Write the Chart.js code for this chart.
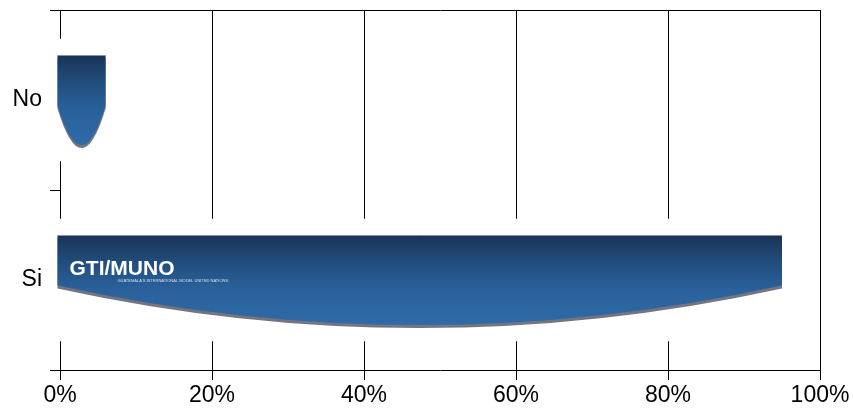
<!DOCTYPE html>
<html>
<head>
<meta charset="utf-8">
<script src="https://cdn.jsdelivr.net/npm/chart.js@4/dist/chart.umd.min.js"></script>
<style>
html,body{margin:0;padding:0;background:#fff;}
#wrap{width:853px;height:417px;}
</style>
</head>
<body>
<div id="wrap"><canvas id="c" width="853" height="417"></canvas></div>
<script>
const categories = ['No', 'Si'];
const values = [6, 95];
const tickValues = [0, 20, 40, 60, 80, 100];
const logoText = 'GTI/MUNO';
const logoSub = "GUATEMALA'S INTERNATIONAL MODEL UNITED NATIONS";

const FONT = '"Liberation Sans", Arial, sans-serif';

const shieldPlugin = {
  id: 'shield',
  beforeDatasetsDraw(chart) {
    const ctx = chart.ctx;
    const meta = chart.getDatasetMeta(0);
    const yScale = chart.scales.y;
    const cat = (yScale.bottom - yScale.top) / categories.length;
    ctx.save();
    ctx.fillStyle = '#ffffff';
    meta.data.forEach(bar => {
      const p = bar.getProps(['x', 'y', 'base'], true);
      const top = p.y - cat * 0.34;
      const h = cat * 0.68;
      ctx.fillRect(p.base - 5, top, (p.x - p.base) + 15, h);
    });
    ctx.restore();
  },
  afterDatasetsDraw(chart) {
    const ctx = chart.ctx;
    const meta = chart.getDatasetMeta(0);
    meta.data.forEach((bar, i) => {
      const p = bar.getProps(['x', 'y', 'base', 'height'], true);
      const left = p.base - 3;
      const right = p.x;
      const top = p.y - p.height / 2;
      const bottom = p.y + p.height / 2;
      const side = p.y + p.height * 0.06;
      const ctrl = 2 * bottom - side;
      const mid = (left + right) / 2;
      const path = (dy) => {
        ctx.beginPath();
        ctx.moveTo(left, top + dy);
        ctx.lineTo(right, top + dy);
        ctx.lineTo(right, side + dy);
        ctx.quadraticCurveTo(mid, ctrl + dy, left, side + dy);
        ctx.closePath();
      };
      ctx.save();
      path(3);
      ctx.fillStyle = '#75757f';
      ctx.fill();
      const g = ctx.createLinearGradient(0, top, 0, bottom);
      g.addColorStop(0, '#1a3354');
      g.addColorStop(0.3, '#214d7d');
      g.addColorStop(0.6, '#2a619a');
      g.addColorStop(1, '#2e6ba8');
      path(0);
      ctx.fillStyle = g;
      ctx.fill();
      ctx.strokeStyle = 'rgba(200,210,225,0.6)';
      ctx.lineWidth = 1;
      ctx.beginPath();
      ctx.moveTo(left, top + 0.5);
      ctx.lineTo(right, top + 0.5);
      ctx.stroke();
      if (right - left > 200) {
        ctx.fillStyle = '#ffffff';
        ctx.font = 'bold 21px ' + FONT;
        ctx.textBaseline = 'alphabetic';
        ctx.fillText(logoText, left + 12, top + 40);
        ctx.font = '4px ' + FONT;
        ctx.fillStyle = 'rgba(255,255,255,0.8)';
        ctx.fillText(logoSub, left + 60, top + 47);
      }
      ctx.restore();
    });
  }
};

new Chart(document.getElementById('c'), {
  type: 'bar',
  data: {
    labels: categories,
    datasets: [{
      data: values,
      backgroundColor: 'rgba(0,0,0,0)',
      borderWidth: 0,
      barPercentage: 0.5,
      categoryPercentage: 1.0
    }]
  },
  options: {
    indexAxis: 'y',
    responsive: false,
    animation: false,
    events: [],
    layout: { padding: { top: 10, right: 33, left: 0, bottom: 0 } },
    plugins: { legend: { display: false }, tooltip: { enabled: false } },
    scales: {
      x: {
        type: 'linear',
        min: 0,
        max: 100,
        afterBuildTicks(scale) { scale.ticks = tickValues.map(v => ({ value: v })); },
        ticks: {
          color: '#000',
          font: { family: FONT, size: 23 },
          padding: 2,
          maxRotation: 0,
          callback: v => v + '%'
        },
        grid: { color: '#000', lineWidth: 1, tickLength: 10, drawOnChartArea: true },
        border: { color: '#000', width: 1 },
        afterFit(s) { s.height = 47; }
      },
      x2: {
        type: 'linear',
        position: 'top',
        min: 0,
        max: 100,
        ticks: { display: false },
        grid: { display: false, drawTicks: false },
        border: { display: true, color: '#000', width: 1 },
        afterFit(s) { s.height = 0; s.paddingTop = 0; s.paddingBottom = 0; }
      },
      y: {
        type: 'category',
        offset: true,
        ticks: {
          color: '#000',
          font: { family: FONT, size: 23 },
          padding: 8
        },
        grid: { color: '#000', lineWidth: 1, offset: true, tickLength: 10, drawOnChartArea: false },
        border: { color: '#000', width: 1 },
        afterFit(s) { s.width = 60; s.paddingTop = 0; s.paddingBottom = 0; }
      }
    }
  },
  plugins: [shieldPlugin]
});
</script>
</body>
</html>
